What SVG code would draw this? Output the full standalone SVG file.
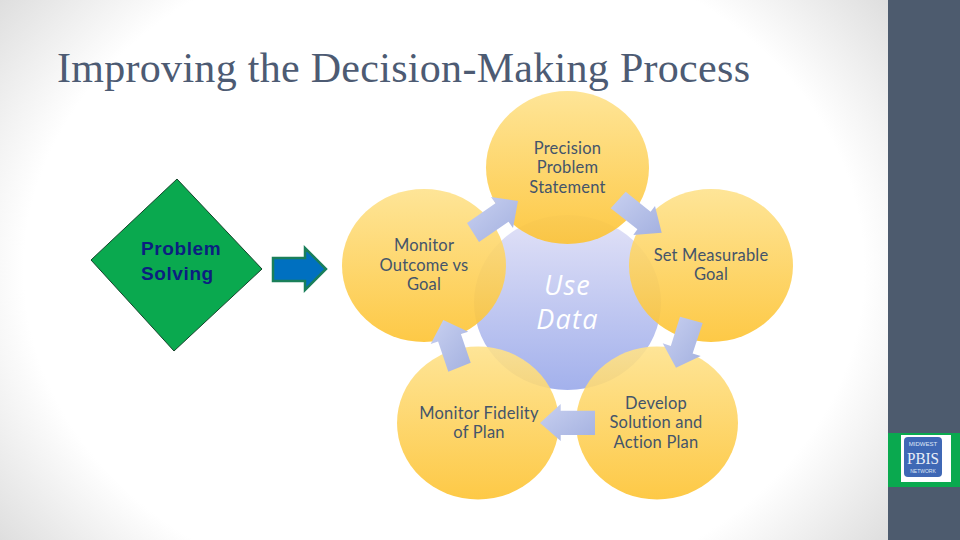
<svg xmlns="http://www.w3.org/2000/svg" width="960" height="540" viewBox="0 0 960 540">
<style>
.t{font-family:"Lato","Open Sans",sans-serif;font-size:16.5px;fill:#44546a;text-anchor:middle;letter-spacing:.2px}
.y{fill:url(#yg);fill-opacity:.9}
.a{fill:url(#ag)}
</style>
<defs>
<radialGradient id="bg" gradientUnits="userSpaceOnUse" cx="444" cy="270" r="1" gradientTransform="translate(444 270) scale(600 480) translate(-444 -270)">
<stop offset="0.7" stop-color="#ffffff"/><stop offset="1" stop-color="#d4d4d4"/>
</radialGradient>
<linearGradient id="yg" x1="0" y1="0" x2="0" y2="1"><stop offset="0" stop-color="#fee28c"/><stop offset="1" stop-color="#fdc332"/></linearGradient>
<linearGradient id="bl" x1="0" y1="0" x2="0" y2="1"><stop offset="0" stop-color="#e2e2f7"/><stop offset="1" stop-color="#a3b1ec"/></linearGradient>
<linearGradient id="ag" x1="0" y1="0" x2="1" y2="1"><stop offset="0" stop-color="#c8d0f0"/><stop offset="1" stop-color="#a4b1e0"/></linearGradient>
</defs>
<rect width="960" height="540" fill="url(#bg)"/>
<rect x="888" width="72" height="540" fill="#4d5b6e"/>
<text x="57" y="82" font-family="'Liberation Serif',serif" font-size="42" fill="#4d5b73" textLength="693" lengthAdjust="spacing">Improving the Decision-Making Process</text>
<g id="problem-solving">
<polygon points="177,179 262,269 174,351 91,260" fill="#0aa94f" stroke="#14432a" stroke-width="1"/>
<text font-family="'Liberation Sans',sans-serif" font-size="19" font-weight="bold" fill="#0b1f80" letter-spacing=".6"><tspan x="141" y="255">Problem</tspan><tspan x="141" y="280">Solving</tspan></text>
</g>
<g id="center">
<ellipse cx="567.5" cy="302.5" rx="93.5" ry="87.5" fill="url(#bl)"/>
<text font-family="'Open Sans','Liberation Sans',sans-serif" font-size="27" font-style="italic" fill="#ffffff" text-anchor="middle" letter-spacing="1.2"><tspan x="567.5" y="295">Use</tspan><tspan x="567.5" y="329">Data</tspan></text>
</g>
<g id="precision">
<ellipse class="y" cx="567.5" cy="167.5" rx="81.5" ry="76.5"/>
<text class="t"><tspan x="567.5" y="154">Precision</tspan><tspan x="567.5" y="173">Problem</tspan><tspan x="567.5" y="193">Statement</tspan></text>
</g>
<g id="set-goal">
<ellipse class="y" cx="711" cy="265.5" rx="82" ry="76.5"/>
<text class="t"><tspan x="711" y="261">Set Measurable</tspan><tspan x="711" y="280">Goal</tspan></text>
</g>
<g id="develop">
<ellipse class="y" cx="657" cy="423" rx="81" ry="76.5"/>
<text class="t"><tspan x="656" y="409">Develop</tspan><tspan x="656" y="428">Solution and</tspan><tspan x="656" y="448">Action Plan</tspan></text>
</g>
<g id="fidelity">
<ellipse class="y" cx="478" cy="423" rx="81" ry="76.5"/>
<text class="t"><tspan x="479" y="419">Monitor Fidelity</tspan><tspan x="479" y="438">of Plan</tspan></text>
</g>
<g id="outcome">
<ellipse class="y" cx="424" cy="265.5" rx="82" ry="76.5"/>
<text class="t"><tspan x="424" y="251">Monitor</tspan><tspan x="424" y="271">Outcome vs</tspan><tspan x="424" y="290">Goal</tspan></text>
</g>
<g id="connectors">
<polygon points="273,258 305,258 305,248 326,269 305,290 305,281 273,281" fill="#0070c0" stroke="#1a7f5a" stroke-width="2.5"/>
<polygon class="a" points="467,223 495.5,203.3 491,197 518,201 513,228 508.5,221.7 479,242"/>
<polygon class="a" points="625.7,191.7 650.6,211.7 655,206 661.7,232.7 633.3,235 637.4,229.3 610.7,208.3"/>
<polygon class="a" points="680,316.7 702.7,323 692.6,353.4 700.7,356 676,367.7 662.7,343.3 670.8,346"/>
<polygon class="a" points="595,410.7 560.7,410.7 560.7,404 540,423 560.7,441 560.7,435 595,435"/>
<polygon class="a" points="470.7,362.7 460.9,334.1 468.3,331.7 443.3,320 430.7,344 438.1,341.5 448.3,371.7"/>
</g>
<g id="logo">
<rect x="888" y="433" width="72" height="54" fill="#0aa94f"/>
<rect x="901" y="435" width="50" height="47" fill="#ffffff"/>
<rect x="904" y="437" width="38" height="40" rx="4" fill="#3f68b5"/>
<text x="923" y="446" font-family="'Liberation Sans',sans-serif" font-size="6" fill="#dfe7f5" text-anchor="middle">MIDWEST</text>
<text x="923" y="464" font-family="'Liberation Serif',serif" font-size="17" fill="#e8eef8" text-anchor="middle" textLength="32" lengthAdjust="spacingAndGlyphs">PBIS</text>
<text x="923" y="473" font-family="'Liberation Sans',sans-serif" font-size="5" fill="#dfe7f5" text-anchor="middle">NETWORK</text>
</g>
</svg>
